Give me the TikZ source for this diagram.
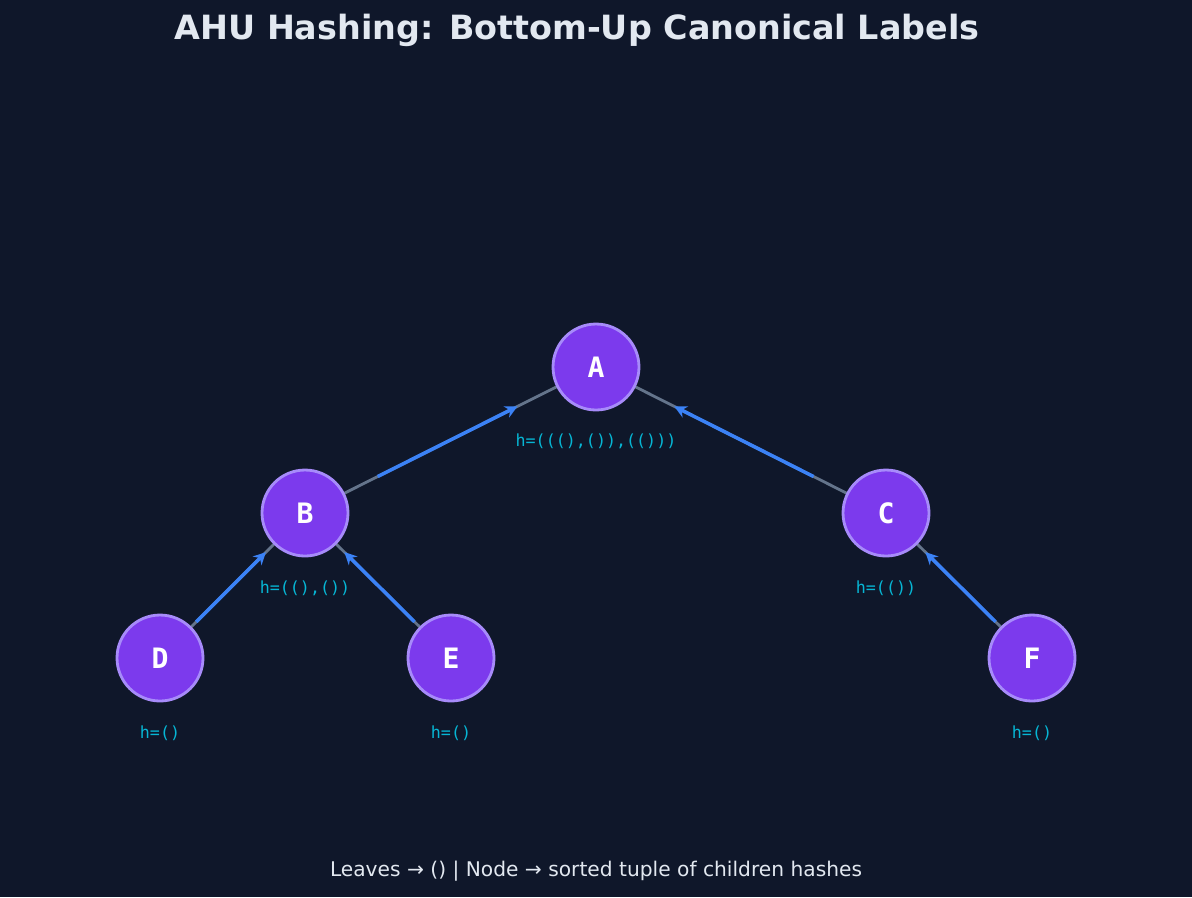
\documentclass[tikz,border=0pt]{standalone}
\usepackage{fontspec}
\setmainfont{DejaVu Sans}
\setmonofont{DejaVu Sans Mono}
\usetikzlibrary{positioning, calc, arrows.meta}
\definecolor{bgnavy}{HTML}{0F172A}
\definecolor{nodepurple}{HTML}{7C3AED}
\definecolor{ringpurple}{HTML}{A78BFA}
\definecolor{edgegray}{HTML}{64748B}
\definecolor{flowblue}{HTML}{3B82F6}
\definecolor{hashcyan}{HTML}{06B6D4}
\definecolor{lighttext}{HTML}{E2E8F0}

\begin{document}
\begin{tikzpicture}[x=0.02cm, y=-0.02cm]
    \tikzstyle{vertex} = [circle, draw=ringpurple, line width=1.6pt, fill=nodepurple, minimum size=1.72cm, inner sep=0pt, text=white, font=\ttfamily\bfseries\fontsize{16}{18}\selectfont]
    \tikzstyle{hash} = [text=hashcyan, font=\ttfamily\fontsize{9.5}{11}\selectfont]
    \tikzstyle{edge} = [edgegray, line width=1.6pt]
    \tikzstyle{flow} = [flowblue, line width=2pt, -{Stealth[length=7pt,width=7pt]}]

    \fill[bgnavy] (0,0) rectangle (1192,897);
    \node[text=lighttext, font=\bfseries\fontsize{19}{22}\selectfont] (title) at (577,30) {AHU Hashing: Bottom-Up Canonical Labels};

    % tree
    \coordinate (A) at (596,367);
    \coordinate (B) at (305,513);
    \coordinate (C) at (886,513);
    \coordinate (D) at (160,658);
    \coordinate (E) at (451,658);
    \coordinate (F) at (1032,658);

    \foreach \p/\c in {A/B, A/C, B/D, B/E, C/F}
        \draw[edge] (\p) -- (\c);
    \foreach \p/\c in {A/B, A/C, B/D, B/E, C/F}
        \draw[flow] ($(\c)!0.25!(\p)$) -- ($(\c)!0.73!(\p)$);
    \foreach \n in {A,B,C,D,E,F}
        \node[vertex] (n\n) at (\n) {\n};

    % hashes
    \node[hash] (hA) at (596,441) {h=(((),()),(()))};
    \node[hash] (hB) at (305,588) {h=((),())};
    \node[hash] (hC) at (886,588) {h=(())};
    \node[hash] (hD) at (160,733) {h=()};
    \node[hash] (hE) at (451,733) {h=()};
    \node[hash] (hF) at (1032,733) {h=()};

    \node[text=lighttext, font=\fontsize{11.5}{14}\selectfont] (note) at (596,871) {Leaves → () | Node → sorted tuple of children hashes};
\end{tikzpicture}
\end{document}
